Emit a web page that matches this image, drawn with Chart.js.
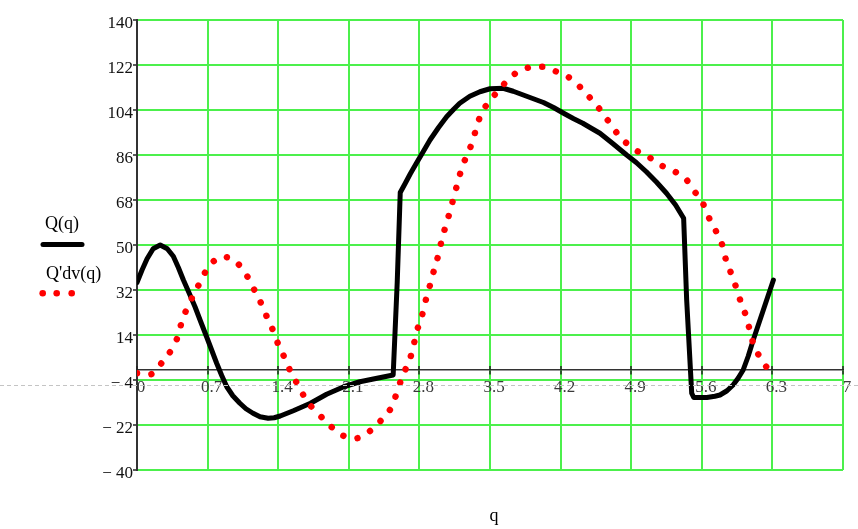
<!DOCTYPE html>
<html>
<head>
<meta charset="utf-8">
<script src="https://cdn.jsdelivr.net/npm/chart.js@4/dist/chart.umd.min.js"></script>
<style>
html,body{margin:0;padding:0;background:#fff;}
#wrap{width:858px;height:529px;position:relative;}
</style>
</head>
<body>
<div id="wrap"><canvas id="c" width="858" height="529"></canvas></div>
<script>
// Q(q) — solid black curve
const qQ = [0.00,0.05,0.10,0.16,0.23,0.30,0.36,0.41,0.46,0.52,0.575,0.63,0.69,0.74,0.79,0.84,0.89,0.95,1.02,1.08,1.15,1.22,1.30,1.36,1.42,1.55,1.72,1.88,2.05,2.21,2.38,2.54,2.58,2.61,2.66,2.71,2.77,2.84,2.905,2.99,3.07,3.14,3.20,3.30,3.40,3.50,3.63,3.73,3.83,3.93,4.03,4.13,4.23,4.33,4.42,4.50,4.59,4.72,4.855,4.95,5.05,5.15,5.25,5.34,5.42,5.45,5.50,5.52,5.65,5.73,5.78,5.85,5.91,5.96,6.01,6.06,6.11,6.21,6.31];
const Q  = [35,40,44.5,48.5,50,48.5,45.5,41,36,30.5,25.3,19.5,13.3,8,2.7,-2.2,-6.7,-10.3,-13.3,-15.5,-17.3,-18.7,-19.3,-19.1,-18.4,-16.3,-13.3,-9.7,-6.7,-4.7,-3.3,-2,35,71,74.7,78.5,82.7,87.5,92,97,101.3,104.3,106.7,109.5,111.3,112.5,112.7,111.5,110,108.5,107,105,102.7,100.5,98.7,96.8,94.7,90.5,86,83,79.3,75.2,70.7,66,60.7,28,-9.3,-11,-11,-10.5,-10,-8.3,-6,-3.3,0,5.5,12,24,36];

// Q'dv(q) — red dotted curve
const qDv = [0.00,0.135,0.25,0.35,0.41,0.45,0.51,0.57,0.625,0.70,0.846,0.98,1.09,1.16,1.23,1.29,1.35,1.40,1.47,1.53,1.61,1.68,1.77,1.90,2.03,2.17,2.30,2.43,2.53,2.59,2.64,2.70,2.74,2.77,2.82,2.85,2.89,2.95,2.99,3.02,3.06,3.10,3.14,3.18,3.22,3.275,3.33,3.37,3.42,3.52,3.63,3.755,3.89,4.03,4.16,4.31,4.45,4.57,4.68,4.78,4.93,5.07,5.205,5.34,5.45,5.525,5.61,5.67,5.74,5.80,5.84,5.89,5.94,6.00,6.05,6.085,6.13,6.21,6.28];
const Qdv = [-1.3,-1.7,3.1,8.7,14,20.3,25.6,31,35,40.7,45.3,43.3,37.7,32.3,26.7,21,15.7,10.3,4.3,-1.3,-6.9,-12.3,-16.3,-21.7,-26,-27.3,-24.7,-19.7,-14.3,-7.3,-1.7,3.7,9.3,15,20.7,26,31.7,40.7,46.3,51.7,57.6,63,69,75,80.7,86.3,91.7,97.7,103,108.7,114,118.7,121,121.3,119.3,116.3,110.7,105.2,99.2,93.7,88.3,85.3,81.7,79.2,76,71.6,66.7,61,55.6,50.3,44,38.7,33.1,25.6,20.3,14,8.7,3.1,-1];

const xTickLabels = ['0','0.7','1.4','2.1','2.8','3.5','4.2','4.9','5.6','6.3','7'];
const yTickLabels = ['\u2212 40','\u2212 22','\u2212 4','14','32','50','68','86','104','122','140'];
const seriesNames = ['Q(q)', "Q'dv(q)"];
const xTitle = 'q';

const serif = '"Liberation Serif", "Times New Roman", serif';
const GREEN = '#4cf04c';

const toPts = (xs, ys) => xs.map((x, i) => ({x: x, y: ys[i]}));

const extras = {
  id: 'extras',
  afterDraw(chart) {
    const ctx = chart.ctx;
    const dsQ = chart.data.datasets[1];
    const dsD = chart.data.datasets[0];
    const xs = chart.scales.x, ys = chart.scales.y;
    ctx.save();
    // upward halves of x-axis tick marks
    ctx.strokeStyle = '#222';
    ctx.lineWidth = 1.5;
    const y0 = ys.getPixelForValue(0);
    xs.ticks.forEach(t => {
      const px = Math.round(xs.getPixelForValue(t.value));
      ctx.beginPath(); ctx.moveTo(px, y0); ctx.lineTo(px, y0 - 4); ctx.stroke();
    });
    // legend
    ctx.fillStyle = '#000';
    ctx.font = '18px ' + serif;
    ctx.textBaseline = 'alphabetic';
    ctx.textAlign = 'left';
    ctx.fillText(seriesNames[0], 45, 229);
    ctx.strokeStyle = dsQ.borderColor;
    ctx.lineWidth = dsQ.borderWidth;
    ctx.lineCap = 'round';
    ctx.beginPath(); ctx.moveTo(43, 244.5); ctx.lineTo(82, 244.5); ctx.stroke();
    ctx.fillText(seriesNames[1], 46, 278.5);
    ctx.fillStyle = dsD.borderColor;
    [42.7, 56.7, 71.7].forEach(x => { ctx.beginPath(); ctx.arc(x, 293.3, 3.3, 0, Math.PI * 2); ctx.fill(); });
    // axis title
    ctx.fillStyle = '#000';
    ctx.textAlign = 'center';
    ctx.fillText(xTitle, 494, 521);
    // grey dashed line
    ctx.strokeStyle = '#c4c4c4';
    ctx.lineWidth = 1;
    ctx.lineCap = 'butt';
    ctx.setLineDash([4, 3]);
    ctx.beginPath(); ctx.moveTo(0, 385.5); ctx.lineTo(858, 385.5); ctx.stroke();
    ctx.restore();
  }
};

new Chart(document.getElementById('c'), {
  type: 'line',
  data: {
    datasets: [
      {
        label: seriesNames[1],
        data: toPts(qDv, Qdv),
        borderColor: '#ff0000',
        borderWidth: 6.5,
        borderDash: [0.01, 14.5],
        borderCapStyle: 'round',
        pointRadius: 0,
        cubicInterpolationMode: 'monotone',
        fill: false,
        order: 0
      },
      {
        label: seriesNames[0],
        data: toPts(qQ, Q),
        borderColor: '#000000',
        borderWidth: 5,
        borderJoinStyle: 'round',
        borderCapStyle: 'round',
        pointRadius: 0,
        tension: 0,
        fill: false,
        order: 1
      }
    ]
  },
  options: {
    responsive: false,
    devicePixelRatio: 1,
    animation: false,
    layout: { padding: { left: 0, right: 15, top: 20, bottom: 59 } },
    plugins: { legend: { display: false }, tooltip: { enabled: false } },
    scales: {
      x: {
        type: 'linear',
        position: { y: 0 },
        min: 0, max: 7,
        ticks: {
          stepSize: 0.7,
          autoSkip: false,
          maxRotation: 0,
          padding: 3,
          labelOffset: 4,
          color: '#3a3a3a',
          font: { family: serif, size: 17 },
          callback: (v, i) => xTickLabels[i]
        },
        grid: { color: GREEN, lineWidth: 2, drawTicks: true, tickLength: 4, tickColor: '#222', tickWidth: 1.5 },
        border: { display: true, color: '#333', width: 1.5 }
      },
      y: {
        type: 'linear',
        position: 'left',
        min: -40, max: 140,
        afterFit: (s) => { s.width = 137; },
        ticks: {
          stepSize: 18,
          autoSkip: false,
          padding: 0,
          labelOffset: 4,
          color: '#111',
          font: { family: serif, size: 17 },
          callback: (v, i) => yTickLabels[i]
        },
        grid: { color: GREEN, lineWidth: 2, drawTicks: true, tickLength: 4, tickColor: '#222', tickWidth: 1.5 },
        border: { display: true, color: '#333', width: 2 }
      }
    }
  },
  plugins: [extras]
});
</script>
</body>
</html>
